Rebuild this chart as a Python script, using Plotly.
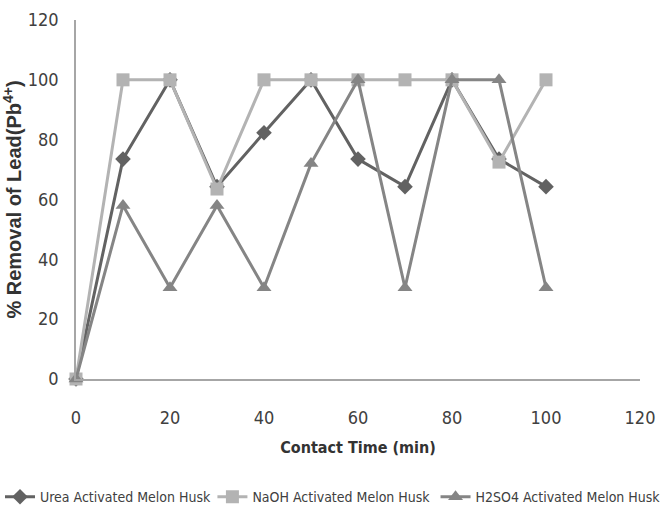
import plotly.graph_objects as go

contact_time = [0, 10, 20, 30, 40, 50, 60, 70, 80, 90, 100]
urea = [0, 73.5, 100, 64.3, 82.3, 100, 73.5, 64.3, 100, 73.5, 64.3]
naoh = [0, 100, 100, 63.5, 100, 100, 100, 100, 100, 72.5, 100]
h2so4 = [0, 58, 30.5, 58, 30.5, 72, 100, 30.5, 100, 100, 30.5]

series = [
    ("Urea Activated Melon Husk", urea, "#626262", "diamond", 12, "legend"),
    ("NaOH Activated Melon Husk", naoh, "#B3B3B3", "square", 13, "legend2"),
    ("H2SO4 Activated Melon Husk", h2so4, "#858585", "triangle-up", 13, "legend3"),
]

fig = go.Figure()
for name, vals, col, sym, sz, lg in series:
    fig.add_trace(go.Scatter(
        x=contact_time, y=vals, name=name, mode="lines+markers",
        line=dict(color=col, width=3),
        marker=dict(symbol=sym, size=sz, color=col),
        cliponaxis=False, legend=lg,
    ))

narrow = "DejaVu Sans Condensed, Liberation Sans Narrow, sans-serif"


def legend_at(xpos):
    return dict(orientation="h", x=xpos, xanchor="left", xref="container",
                y=0.029, yanchor="middle", yref="container",
                font=dict(family=narrow, size=14, color="#404040"),
                itemwidth=30, bgcolor="rgba(0,0,0,0)")


fig.update_layout(
    width=668, height=512,
    margin=dict(l=76, r=28, t=20, b=133, autoexpand=False),
    paper_bgcolor="white", plot_bgcolor="white",
    showlegend=True,
    legend=legend_at(0.0),
    legend2=legend_at(0.318),
    legend3=legend_at(0.652),
    xaxis=dict(range=[0, 120], tickvals=[0, 20, 40, 60, 80, 100, 120],
               showgrid=False, zeroline=False, showline=True,
               linecolor="#A6A6A6", linewidth=1.5, automargin=False,
               ticks="", ticklabelstandoff=22,
               tickfont=dict(family=narrow, size=18, color="#404040"),
               title=dict(text="<b>Contact Time (min)</b>", standoff=14,
                          font=dict(family=narrow, size=16, color="#333333"))),
    yaxis=dict(range=[0, 120], tickvals=[0, 20, 40, 60, 80, 100, 120],
               showgrid=False, zeroline=False, showline=True,
               linecolor="#A6A6A6", linewidth=1.5, automargin=False,
               ticks="", ticklabelstandoff=12,
               tickfont=dict(family=narrow, size=18, color="#404040"),
               title=dict(text="<b>% Removal of Lead(Pb<sup>4+</sup>)</b>", standoff=7,
                          font=dict(family="Liberation Sans, Arial, sans-serif", size=20, color="#333333"))),
)

fig.write_html("out.html")
